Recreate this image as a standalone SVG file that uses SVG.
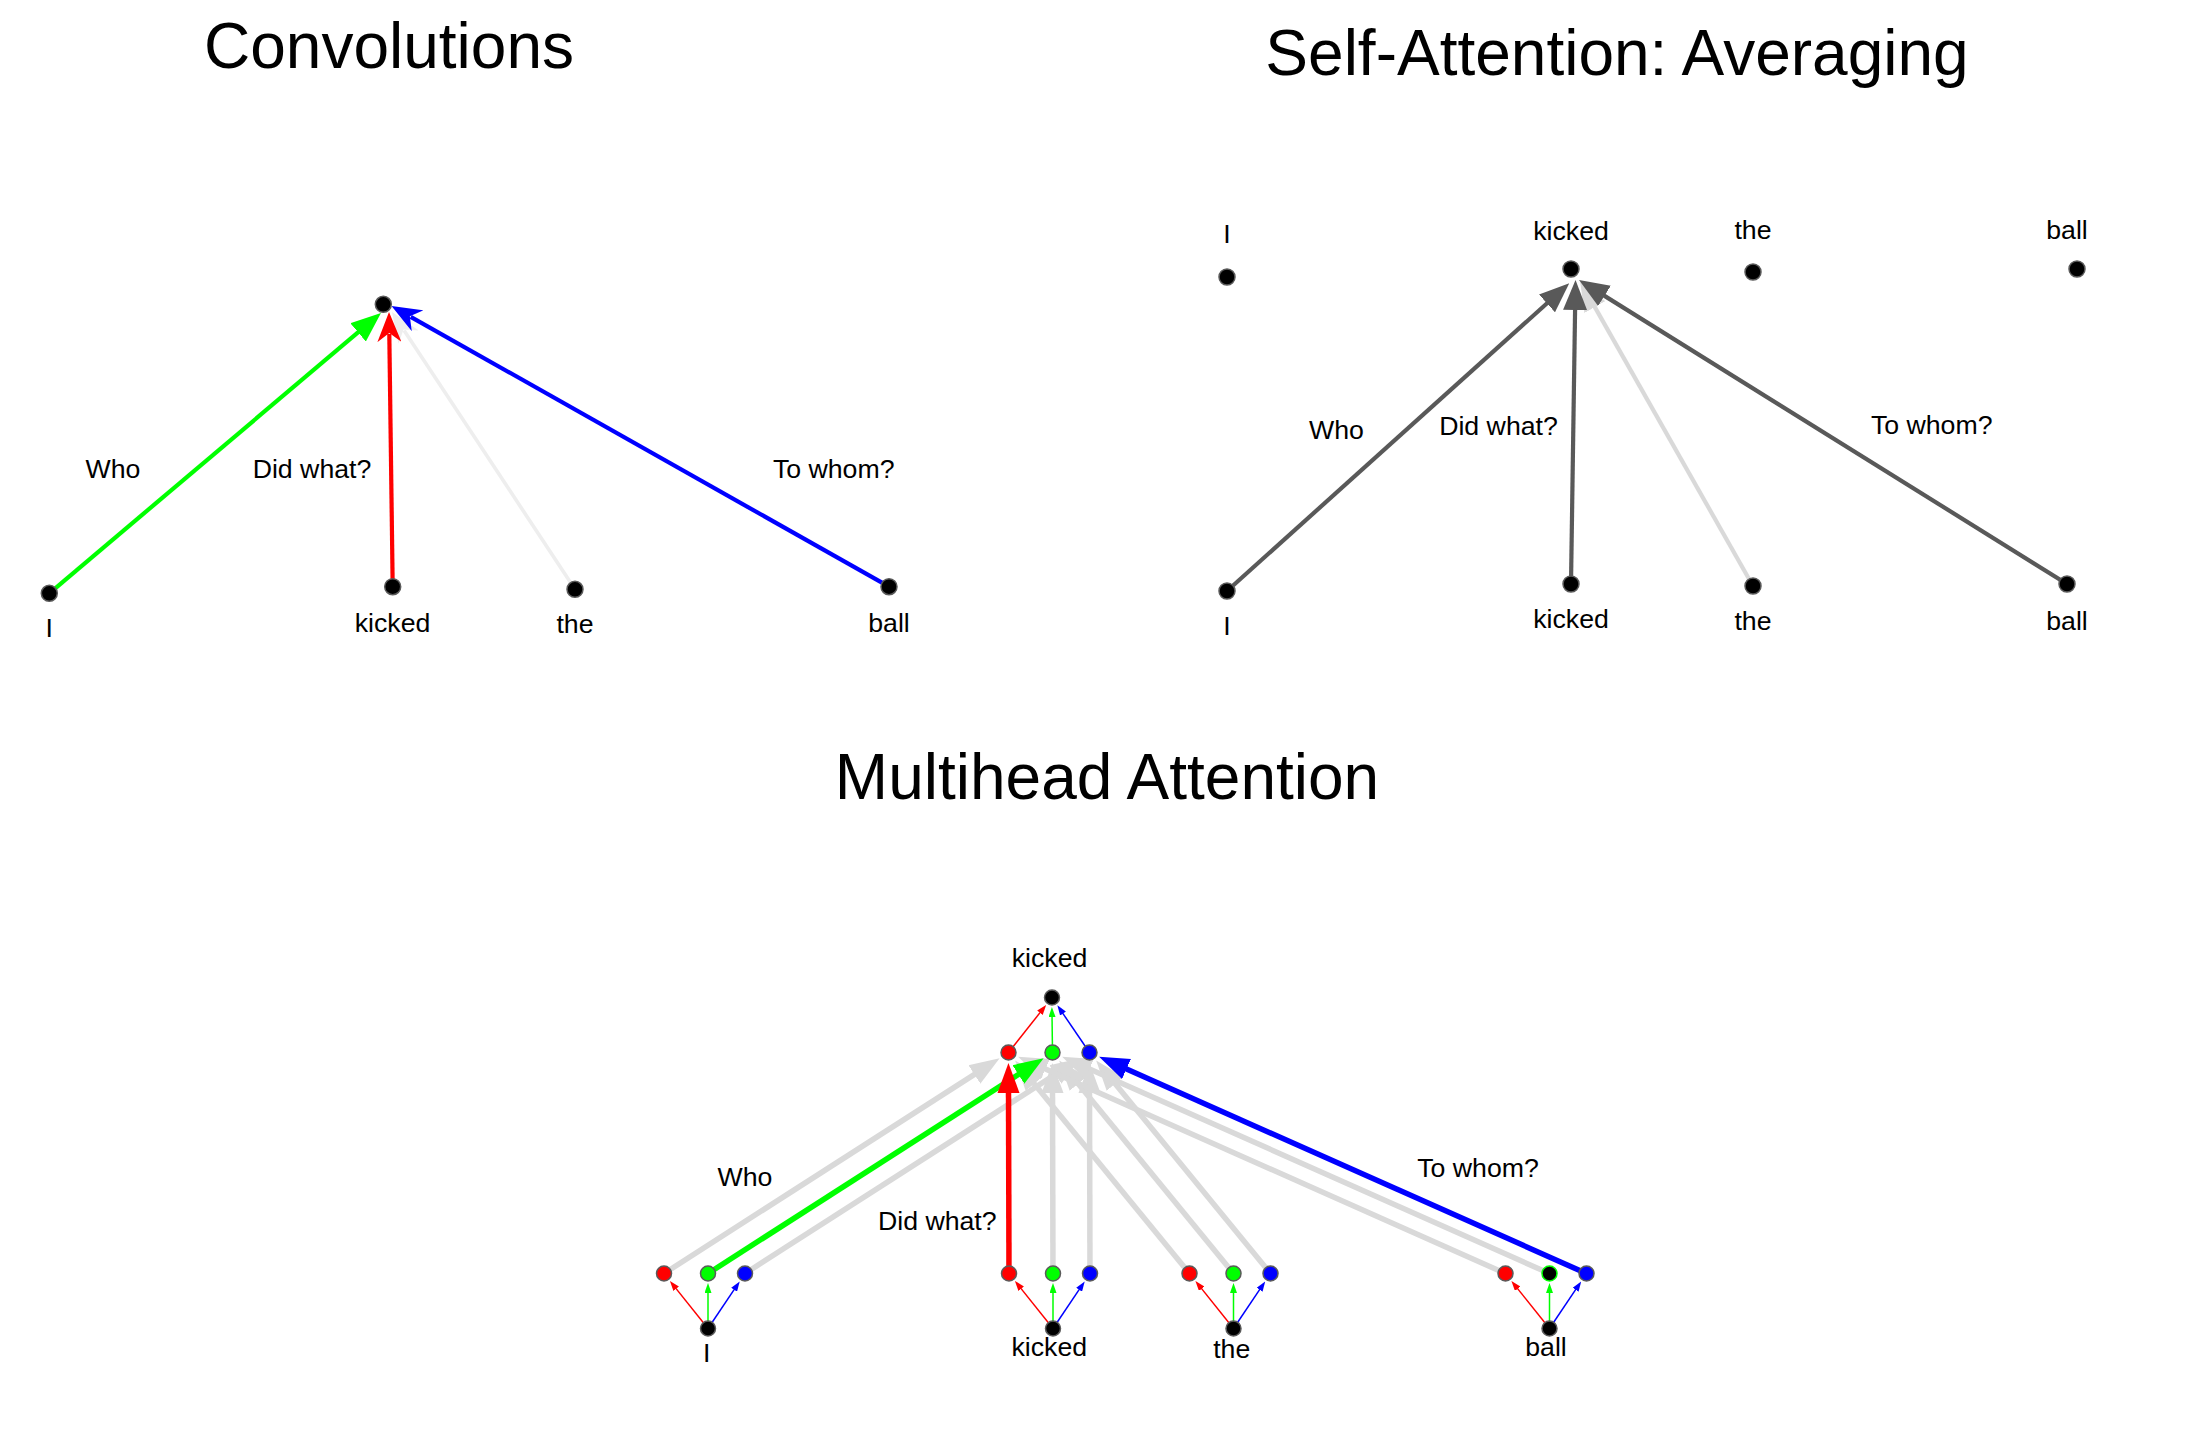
<svg xmlns="http://www.w3.org/2000/svg" width="2192" height="1444" viewBox="0 0 2192 1444">
<defs>
<style>
text{font-family:"Liberation Sans",Arial,Helvetica,sans-serif;fill:#000;text-anchor:middle}
.title{font-size:64px}
.lbl{font-size:26.7px}
.nd{stroke:#5a5a5a;stroke-width:1.5}
.blk{fill:#000}
.r{fill:#ff0000}
.g{fill:#00ff00}
.b{fill:#0000ff}
line{fill:none}
.cg{stroke:#00ff00;stroke-width:4.2}
.cr{stroke:#ff0000;stroke-width:4.2}
.cb{stroke:#0000ff;stroke-width:4.2}
.cl{stroke:#eeeeee;stroke-width:3.6}
.sd{stroke:#595959;stroke-width:4.2}
.sl{stroke:#d9d9d9;stroke-width:4.2}
.mg{stroke:#d9d9d9;stroke-width:5.5}
.mr{stroke:#ff0000;stroke-width:5.5}
.mgr{stroke:#00ff00;stroke-width:5.5}
.mb{stroke:#0000ff;stroke-width:5.5}
.tr{stroke:#ff0000;stroke-width:1.5}
.tg{stroke:#00ff00;stroke-width:1.5}
.tb{stroke:#0000ff;stroke-width:1.5}
</style>
<marker id="aConvG" markerUnits="userSpaceOnUse" markerWidth="30" markerHeight="24" refX="8" refY="12" orient="auto"><path d="M0,0 L30,12 L0,24 Z" fill="#00ff00"/></marker>
<marker id="aConvR" markerUnits="userSpaceOnUse" markerWidth="30" markerHeight="24" refX="8" refY="12" orient="auto"><path d="M0,0 L30,12 L0,24 L9,12 Z" fill="#ff0000"/></marker>
<marker id="aConvB" markerUnits="userSpaceOnUse" markerWidth="30" markerHeight="24" refX="8" refY="12" orient="auto"><path d="M0,0 L30,12 L0,24 L9,12 Z" fill="#0000ff"/></marker>
<marker id="aConvL" markerUnits="userSpaceOnUse" markerWidth="30" markerHeight="24" refX="8" refY="12" orient="auto"><path d="M0,0 L30,12 L0,24 L9,12 Z" fill="#eeeeee"/></marker>
<marker id="aSaD" markerUnits="userSpaceOnUse" markerWidth="30" markerHeight="24" refX="8" refY="12" orient="auto"><path d="M0,0 L30,12 L0,24 Z" fill="#595959"/></marker>
<marker id="aSaL" markerUnits="userSpaceOnUse" markerWidth="30" markerHeight="24" refX="8" refY="12" orient="auto"><path d="M0,0 L30,12 L0,24 Z" fill="#d9d9d9"/></marker>
<marker id="aMhGray" markerUnits="userSpaceOnUse" markerWidth="30" markerHeight="24" refX="8" refY="12" orient="auto"><path d="M0,1 L30,12 L0,23 Z" fill="#d9d9d9"/></marker>
<marker id="aMhR" markerUnits="userSpaceOnUse" markerWidth="30" markerHeight="24" refX="8" refY="12" orient="auto"><path d="M0,1 L30,12 L0,23 Z" fill="#ff0000"/></marker>
<marker id="aMhG" markerUnits="userSpaceOnUse" markerWidth="30" markerHeight="24" refX="8" refY="12" orient="auto"><path d="M0,1 L30,12 L0,23 Z" fill="#00ff00"/></marker>
<marker id="aMhB" markerUnits="userSpaceOnUse" markerWidth="30" markerHeight="24" refX="8" refY="12" orient="auto"><path d="M0,1 L30,12 L0,23 Z" fill="#0000ff"/></marker>
<marker id="tR" markerUnits="userSpaceOnUse" markerWidth="10" markerHeight="7" refX="3" refY="3.5" orient="auto"><path d="M0,0 L10,3.5 L0,7 Z" fill="#ff0000"/></marker>
<marker id="tG" markerUnits="userSpaceOnUse" markerWidth="10" markerHeight="7" refX="3" refY="3.5" orient="auto"><path d="M0,0 L10,3.5 L0,7 Z" fill="#00ff00"/></marker>
<marker id="tB" markerUnits="userSpaceOnUse" markerWidth="10" markerHeight="7" refX="3" refY="3.5" orient="auto"><path d="M0,0 L10,3.5 L0,7 Z" fill="#0000ff"/></marker>
</defs>
<rect width="2192" height="1444" fill="#ffffff"/>

<g id="titles">
<text class="title" x="389" y="68">Convolutions</text>
<text class="title" x="1617" y="75">Self-Attention: Averaging</text>
<text class="title" x="1107" y="799">Multihead Attention</text>
</g>

<g id="connectors">
<!-- Convolutions -->
<line class="cl" x1="575" y1="589.3" x2="404.1" y2="330.4" marker-end="url(#aConvL)"/>
<line class="cg" x1="49.3" y1="593.3" x2="364.2" y2="327.2" marker-end="url(#aConvG)"/>
<line class="cr" x1="392.7" y1="586.7" x2="389.3" y2="334" marker-end="url(#aConvR)"/>
<line class="cb" x1="889" y1="586.7" x2="410.7" y2="316.8" marker-end="url(#aConvB)"/>
<!-- Self-attention -->
<line class="sl" x1="1753" y1="586" x2="1590.9" y2="300.1" marker-end="url(#aSaL)"/>
<line class="sd" x1="1227" y1="591" x2="1552.9" y2="298" marker-end="url(#aSaD)"/>
<line class="sd" x1="1571" y1="584" x2="1575.2" y2="302" marker-end="url(#aSaD)"/>
<line class="sd" x1="2067" y1="584" x2="1597.7" y2="291.6" marker-end="url(#aSaD)"/>
<!-- Multihead: word heads to middle heads (gray) -->
<line class="mg" x1="664" y1="1273.5" x2="981.1" y2="1070.1" marker-end="url(#aMhGray)"/>
<line class="mg" x1="745" y1="1273.5" x2="1062.1" y2="1070.1" marker-end="url(#aMhGray)"/>
<line class="mg" x1="1053" y1="1273.5" x2="1052.5" y2="1085" marker-end="url(#aMhGray)"/>
<line class="mg" x1="1090" y1="1273.5" x2="1089.5" y2="1085" marker-end="url(#aMhGray)"/>
<line class="mg" x1="1189.5" y1="1273.5" x2="1029.1" y2="1077.6" marker-end="url(#aMhGray)"/>
<line class="mg" x1="1233.5" y1="1273.5" x2="1073.1" y2="1077.6" marker-end="url(#aMhGray)"/>
<line class="mg" x1="1270.5" y1="1273.5" x2="1110.1" y2="1077.6" marker-end="url(#aMhGray)"/>
<line class="mg" x1="1505.5" y1="1273.5" x2="1038.2" y2="1065.7" marker-end="url(#aMhGray)"/>
<line class="mg" x1="1549.5" y1="1273.5" x2="1082.2" y2="1065.7" marker-end="url(#aMhGray)"/>
<!-- Multihead highlighted -->
<line class="mgr" x1="708" y1="1273.5" x2="1025.1" y2="1070.1" marker-end="url(#aMhG)"/>
<line class="mr" x1="1009" y1="1273.5" x2="1008.5" y2="1085" marker-end="url(#aMhR)"/>
<line class="mb" x1="1586.5" y1="1273.5" x2="1119.2" y2="1065.7" marker-end="url(#aMhB)"/>
<!-- Multihead thin: word to heads -->
<line class="tr" x1="708" y1="1328.5" x2="674.3" y2="1286.4" marker-end="url(#tR)"/>
<line class="tg" x1="708" y1="1328.5" x2="708" y2="1290" marker-end="url(#tG)"/>
<line class="tb" x1="708" y1="1328.5" x2="735.8" y2="1287.2" marker-end="url(#tB)"/>
<line class="tr" x1="1053" y1="1328.5" x2="1019.3" y2="1286.4" marker-end="url(#tR)"/>
<line class="tg" x1="1053" y1="1328.5" x2="1053" y2="1290" marker-end="url(#tG)"/>
<line class="tb" x1="1053" y1="1328.5" x2="1080.8" y2="1287.2" marker-end="url(#tB)"/>
<line class="tr" x1="1233.5" y1="1328.5" x2="1199.8" y2="1286.4" marker-end="url(#tR)"/>
<line class="tg" x1="1233.5" y1="1328.5" x2="1233.5" y2="1290" marker-end="url(#tG)"/>
<line class="tb" x1="1233.5" y1="1328.5" x2="1261.3" y2="1287.2" marker-end="url(#tB)"/>
<line class="tr" x1="1549.5" y1="1328.5" x2="1515.8" y2="1286.4" marker-end="url(#tR)"/>
<line class="tg" x1="1549.5" y1="1328.5" x2="1549.5" y2="1290" marker-end="url(#tG)"/>
<line class="tb" x1="1549.5" y1="1328.5" x2="1577.3" y2="1287.2" marker-end="url(#tB)"/>
<!-- Multihead thin: middle heads to top -->
<line class="tr" x1="1008.5" y1="1052.5" x2="1041.8" y2="1010.4" marker-end="url(#tR)"/>
<line class="tg" x1="1052.5" y1="1052.5" x2="1052" y2="1014" marker-end="url(#tG)"/>
<line class="tb" x1="1089.5" y1="1052.5" x2="1061.3" y2="1011.1" marker-end="url(#tB)"/>
</g>

<g id="edge-labels" class="lbl">
<text class="lbl" x="113" y="477.7">Who</text>
<text class="lbl" x="312" y="477.7">Did what?</text>
<text class="lbl" x="833.7" y="477.7">To whom?</text>
<text class="lbl" x="1336.5" y="439">Who</text>
<text class="lbl" x="1498.5" y="435">Did what?</text>
<text class="lbl" x="1931.7" y="434">To whom?</text>
<text class="lbl" x="745" y="1186">Who</text>
<text class="lbl" x="937.3" y="1230">Did what?</text>
<text class="lbl" x="1478" y="1176.7">To whom?</text>
</g>

<!-- Convolutions nodes -->
<g id="conv-top"><circle class="nd blk" cx="383.3" cy="304.3" r="8"/></g>
<g id="conv-I"><circle class="nd blk" cx="49.3" cy="593.3" r="8"/><text class="lbl" x="49.3" y="637.3">I</text></g>
<g id="conv-kicked"><circle class="nd blk" cx="392.7" cy="586.7" r="8"/><text class="lbl" x="392.5" y="631.7">kicked</text></g>
<g id="conv-the"><circle class="nd blk" cx="575" cy="589.3" r="8"/><text class="lbl" x="575" y="632.7">the</text></g>
<g id="conv-ball"><circle class="nd blk" cx="889" cy="586.7" r="8"/><text class="lbl" x="889" y="631.7">ball</text></g>

<!-- Self-attention nodes -->
<g id="sa-top-I"><circle class="nd blk" cx="1227" cy="277" r="8"/><text class="lbl" x="1227" y="243">I</text></g>
<g id="sa-top-kicked"><circle class="nd blk" cx="1571" cy="269" r="8"/><text class="lbl" x="1571" y="240">kicked</text></g>
<g id="sa-top-the"><circle class="nd blk" cx="1753" cy="272" r="8"/><text class="lbl" x="1753" y="239">the</text></g>
<g id="sa-top-ball"><circle class="nd blk" cx="2077" cy="269" r="8"/><text class="lbl" x="2067" y="239">ball</text></g>
<g id="sa-bot-I"><circle class="nd blk" cx="1227" cy="591" r="8"/><text class="lbl" x="1227" y="635">I</text></g>
<g id="sa-bot-kicked"><circle class="nd blk" cx="1571" cy="584" r="8"/><text class="lbl" x="1571" y="628">kicked</text></g>
<g id="sa-bot-the"><circle class="nd blk" cx="1753" cy="586" r="8"/><text class="lbl" x="1753" y="630">the</text></g>
<g id="sa-bot-ball"><circle class="nd blk" cx="2067" cy="584" r="8"/><text class="lbl" x="2067" y="630">ball</text></g>

<!-- Multihead nodes -->
<g id="mh-top-kicked"><circle class="nd blk" cx="1052" cy="997.5" r="7.5"/><text class="lbl" x="1049.5" y="966.7">kicked</text></g>
<g id="mh-mid-red"><circle class="nd r" cx="1008.5" cy="1052.5" r="7.5"/></g>
<g id="mh-mid-green"><circle class="nd g" cx="1052.5" cy="1052.5" r="7.5"/></g>
<g id="mh-mid-blue"><circle class="nd b" cx="1089.5" cy="1052.5" r="7.5"/></g>

<g id="mh-I-red"><circle class="nd r" cx="664" cy="1273.5" r="7.5"/></g>
<g id="mh-I-green"><circle class="nd g" cx="708" cy="1273.5" r="7.5"/></g>
<g id="mh-I-blue"><circle class="nd b" cx="745" cy="1273.5" r="7.5"/></g>
<g id="mh-I"><circle class="nd blk" cx="708" cy="1328.5" r="7.5"/><text class="lbl" x="706.7" y="1361.7">I</text></g>

<g id="mh-kicked-red"><circle class="nd r" cx="1009" cy="1273.5" r="7.5"/></g>
<g id="mh-kicked-green"><circle class="nd g" cx="1053" cy="1273.5" r="7.5"/></g>
<g id="mh-kicked-blue"><circle class="nd b" cx="1090" cy="1273.5" r="7.5"/></g>
<g id="mh-kicked"><circle class="nd blk" cx="1053" cy="1328.5" r="7.5"/><text class="lbl" x="1049.3" y="1356">kicked</text></g>

<g id="mh-the-red"><circle class="nd r" cx="1189.5" cy="1273.5" r="7.5"/></g>
<g id="mh-the-green"><circle class="nd g" cx="1233.5" cy="1273.5" r="7.5"/></g>
<g id="mh-the-blue"><circle class="nd b" cx="1270.5" cy="1273.5" r="7.5"/></g>
<g id="mh-the"><circle class="nd blk" cx="1233.5" cy="1328.5" r="7.5"/><text class="lbl" x="1231.7" y="1358.3">the</text></g>

<g id="mh-ball-red"><circle class="nd r" cx="1505.5" cy="1273.5" r="7.5"/></g>
<g id="mh-ball-green"><circle cx="1549.5" cy="1273.5" r="7.5" fill="#000" stroke="#00ff00" stroke-width="1.5"/></g>
<g id="mh-ball-blue"><circle class="nd b" cx="1586.5" cy="1273.5" r="7.5"/></g>
<g id="mh-ball"><circle class="nd blk" cx="1549.5" cy="1328.5" r="7.5"/><text class="lbl" x="1546" y="1356">ball</text></g>
</svg>
